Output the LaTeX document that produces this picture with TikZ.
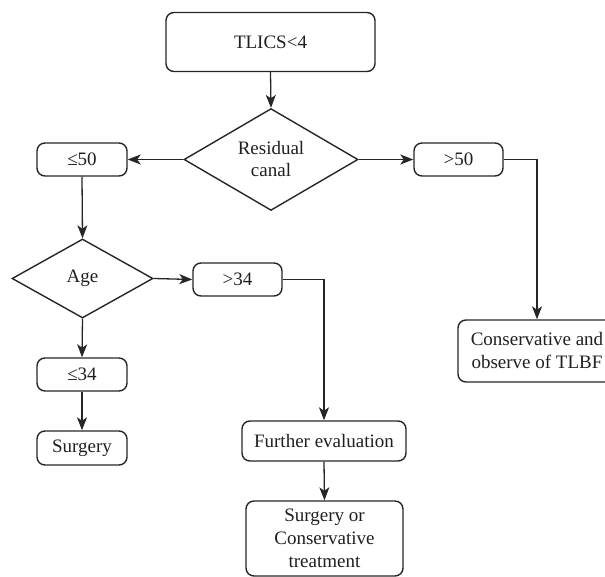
\documentclass[tikz,border=0pt]{standalone}
\usepackage{fontspec}
\setmainfont{Liberation Serif}
\usetikzlibrary{shapes.geometric,arrows.meta}
\begin{document}
\begin{tikzpicture}[x=1pt,y=-1pt,
  every node/.style={font=\fontsize{19}{23}\selectfont, text=black!88},
  rbox/.style={draw=black!85, line width=1.4pt, rounded corners=8pt, inner sep=0pt, align=center},
  dia/.style={draw=black!85, line width=1.4pt, shape=diamond, inner sep=0pt, align=center},
  conn/.style={draw=black!85, line width=1.3pt, -{Stealth[length=13pt,width=10pt,inset=3.5pt]}}
]
\useasboundingbox (0,0) rectangle (605,577);
\clip (0,0) rectangle (605,577);
\node[rbox, minimum width=209pt, minimum height=59pt] (tlics) at (270.5,42) {TLICS<4};
\node[dia, minimum width=174pt, minimum height=95pt] (res) at (271,159.5) {Residual\\[-1pt]canal};
\node[rbox, minimum width=90pt, minimum height=33pt] (le50) at (82,159.5) {≤50};
\node[rbox, minimum width=89pt, minimum height=33pt] (gt50) at (458.5,159.5) {>50};
\node[rbox, minimum width=158pt, minimum height=62pt] (cons) at (537,351) {Conservative and\\observe of TLBF};
\node[dia, minimum width=141pt, minimum height=79pt] (age) at (82.5,278.5) {Age};
\node[rbox, minimum width=89pt, minimum height=33pt] (gt34) at (237.5,279.5) {>34};
\node[rbox, minimum width=90pt, minimum height=33pt] (le34) at (82,374.5) {≤34};
\node[rbox, minimum width=90pt, minimum height=34pt] (surg) at (82,448) {Surgery};
\node[rbox, minimum width=164pt, minimum height=40pt] (fur) at (324,441) {Further evaluation};
\node[rbox, minimum width=157pt, minimum height=75pt] (sorc) at (324.5,538.5) {Surgery or\\Conservative\\treatment};
\draw[conn] (tlics.south) -- (res.north);
\draw[conn] (res.west) -- (le50.east);
\draw[conn] (res.east) -- (gt50.west);
\draw[conn] (gt50.east) -| (cons.north);
\draw[conn] (le50.south) -- (age.north);
\draw[conn] (age.east) -- (gt34.west);
\draw[conn] (gt34.east) -| (fur.north);
\draw[conn] (age.south) -- (le34.north);
\draw[conn] (le34.south) -- (surg.north);
\draw[conn] (fur.south) -- (sorc.north);
\end{tikzpicture}
\end{document}
